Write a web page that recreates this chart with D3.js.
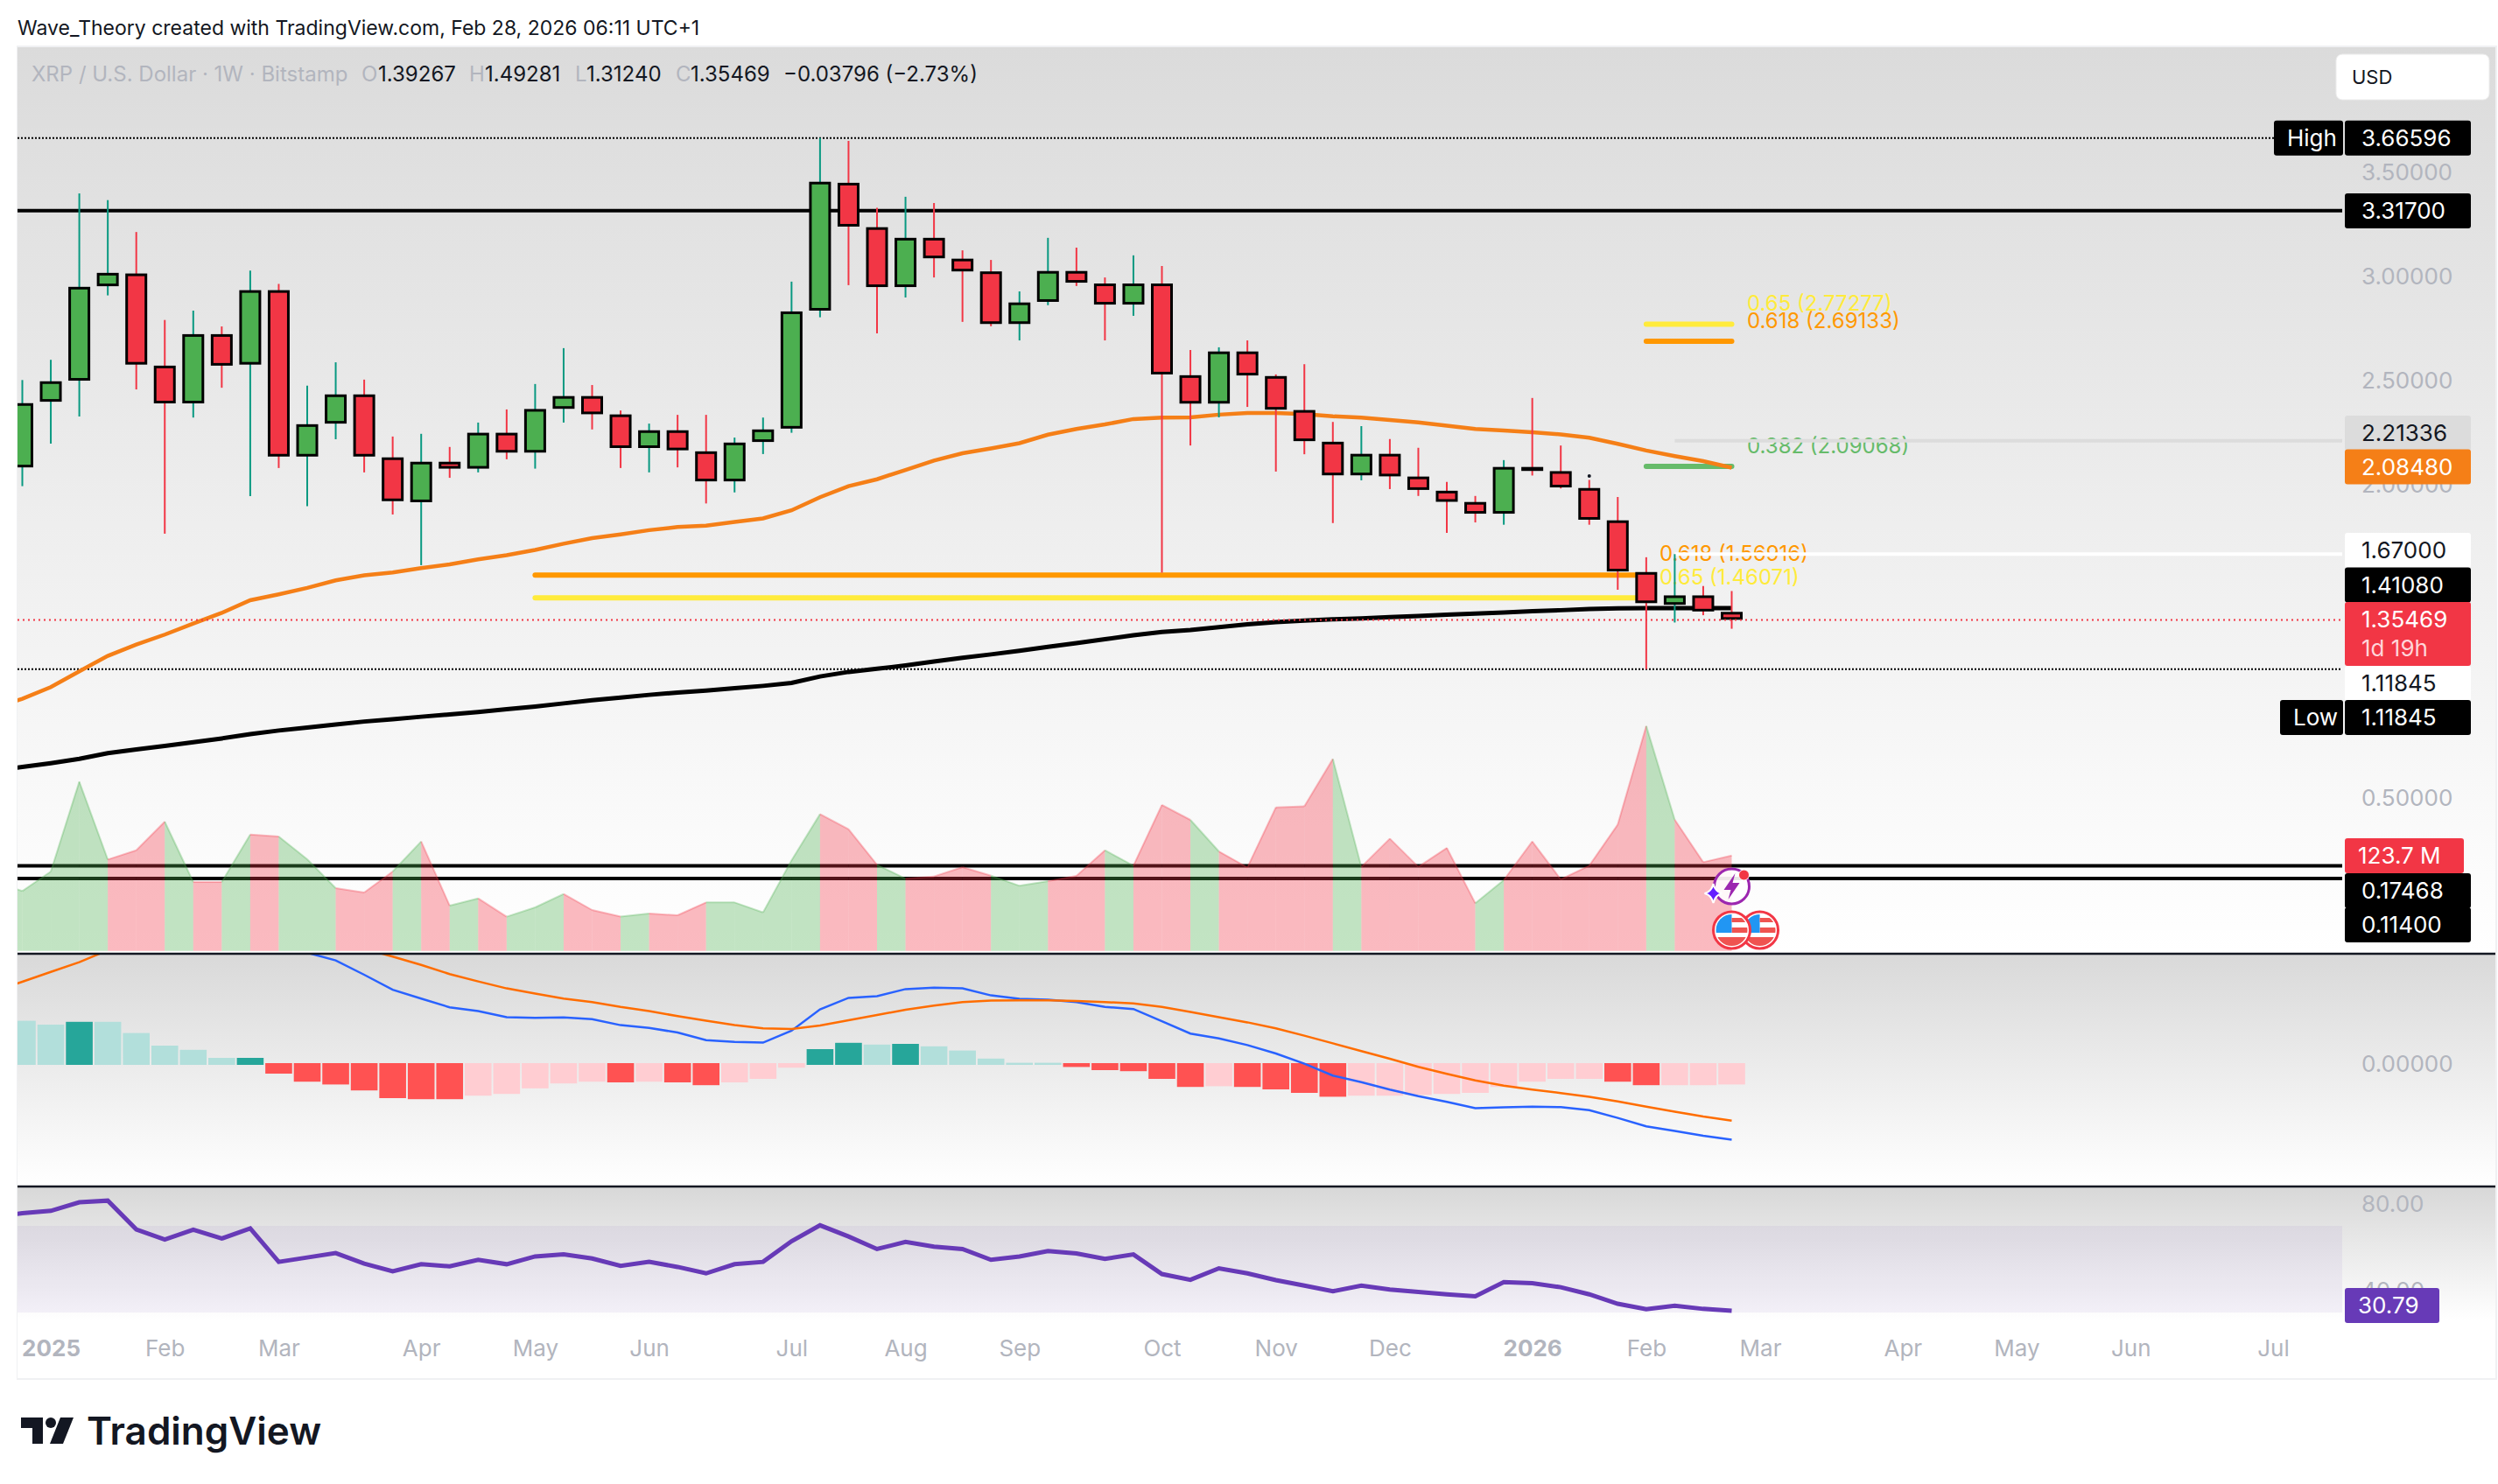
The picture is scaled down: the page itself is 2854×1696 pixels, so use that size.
<!DOCTYPE html>
<html>
<head>
<meta charset="utf-8">
<title>XRP / U.S. Dollar 1W</title>
<script src="https://cdn.jsdelivr.net/npm/d3@7"></script>
<style>
    html, body { margin: 0; padding: 0; background: #fff; }
    svg { display: block; font-family: Inter, "Noto Sans", sans-serif; }
</style>
</head>
<body>
<svg id="chart" width="2854" height="1696"></svg>
<script>
'use strict';

// weekly bars, first entry is the bar just left of the visible pane
const weeks = d3.range(-1, 61);

const opens = [2.10, 2.086, 2.401, 2.502, 2.955, 3.016, 2.574, 2.393, 2.725, 2.579, 2.936, 2.138, 2.296, 2.436, 2.134, 1.919, 2.113, 2.080, 2.252, 2.157, 2.367, 2.428, 2.340, 2.179, 2.264, 2.163, 2.019, 2.208, 2.272, 2.838, 3.451, 3.238, 2.951, 3.187, 3.087, 3.026, 2.774, 2.880, 3.028, 2.968, 2.867, 2.968, 2.528, 2.392, 2.642, 2.524, 2.361, 2.209, 2.048, 2.151, 2.042, 1.974, 1.920, 1.864, 2.088, 2.068, 1.987, 1.832, 1.584, 1.427, 1.472, 1.393];
const closes = [2.08, 2.394, 2.499, 2.952, 3.019, 2.579, 2.393, 2.725, 2.574, 2.936, 2.138, 2.293, 2.436, 2.138, 1.924, 2.113, 2.080, 2.252, 2.157, 2.366, 2.428, 2.341, 2.179, 2.264, 2.168, 2.019, 2.205, 2.268, 2.834, 3.456, 3.241, 2.951, 3.187, 3.089, 3.026, 2.774, 2.877, 3.028, 2.972, 2.867, 2.968, 2.532, 2.392, 2.642, 2.527, 2.363, 2.212, 2.048, 2.151, 2.043, 1.978, 1.921, 1.864, 2.088, 2.069, 1.990, 1.835, 1.587, 1.435, 1.472, 1.395, 1.355];
const highs = [2.15, 2.505, 2.602, 3.400, 3.368, 3.215, 2.793, 2.838, 2.762, 3.030, 2.966, 2.478, 2.590, 2.507, 2.234, 2.247, 2.184, 2.301, 2.364, 2.486, 2.658, 2.481, 2.359, 2.296, 2.338, 2.338, 2.229, 2.325, 2.977, 3.666, 3.652, 3.331, 3.384, 3.354, 3.127, 3.081, 2.930, 3.187, 3.140, 2.997, 3.103, 3.052, 2.649, 2.662, 2.695, 2.532, 2.581, 2.304, 2.284, 2.222, 2.180, 2.016, 1.949, 2.121, 2.419, 2.191, 2.026, 1.944, 1.655, 1.670, 1.517, 1.493];
const lows = [2.00, 1.996, 2.200, 2.330, 2.911, 2.460, 1.768, 2.325, 2.468, 1.948, 2.083, 1.900, 2.221, 2.062, 1.860, 1.617, 2.036, 2.062, 2.125, 2.080, 2.301, 2.268, 2.083, 2.062, 2.086, 1.913, 1.966, 2.150, 2.252, 2.806, 2.960, 2.729, 2.901, 2.997, 2.784, 2.763, 2.695, 2.864, 2.956, 2.695, 2.813, 1.581, 2.191, 2.326, 2.376, 2.066, 2.149, 1.819, 2.024, 1.982, 1.949, 1.772, 1.822, 1.811, 2.047, 1.985, 1.811, 1.499, 1.118, 1.342, 1.377, 1.312];

// moving averages on the price pane
const ma50 = [0.93, 0.976, 1.032, 1.108, 1.182, 1.236, 1.284, 1.337, 1.388, 1.449, 1.477, 1.508, 1.544, 1.568, 1.582, 1.603, 1.621, 1.645, 1.665, 1.690, 1.720, 1.747, 1.765, 1.785, 1.800, 1.807, 1.824, 1.841, 1.880, 1.943, 1.996, 2.029, 2.074, 2.119, 2.154, 2.177, 2.202, 2.243, 2.270, 2.292, 2.318, 2.325, 2.326, 2.339, 2.347, 2.347, 2.342, 2.331, 2.325, 2.313, 2.302, 2.286, 2.270, 2.263, 2.255, 2.244, 2.228, 2.199, 2.167, 2.140, 2.116, 2.0848];
const ma200 = [0.632, 0.649, 0.667, 0.688, 0.715, 0.733, 0.750, 0.768, 0.786, 0.807, 0.824, 0.838, 0.853, 0.867, 0.878, 0.890, 0.901, 0.913, 0.926, 0.939, 0.954, 0.969, 0.982, 0.995, 1.006, 1.015, 1.027, 1.038, 1.052, 1.083, 1.105, 1.120, 1.136, 1.155, 1.173, 1.189, 1.206, 1.225, 1.243, 1.262, 1.281, 1.297, 1.306, 1.320, 1.333, 1.344, 1.351, 1.357, 1.362, 1.368, 1.373, 1.379, 1.385, 1.390, 1.396, 1.401, 1.407, 1.410, 1.411, 1.411, 1.411, 1.4108];

// volume in millions
const volumes = [89.7, 77.6, 102.9, 219.4, 118.4, 130.5, 167.6, 89.3, 89.3, 150.9, 148.3, 118.8, 81.3, 75.7, 102.9, 141.9, 58.6, 68.1, 44.3, 56.4, 73.8, 53.0, 44.6, 48.4, 46.2, 62.8, 62.8, 49.9, 117.3, 177.4, 157.8, 111.6, 93.8, 96.5, 108.6, 97.6, 84.4, 90.4, 97.2, 130.5, 110.5, 189.2, 169.9, 129.0, 108.2, 186.1, 187.6, 248.9, 109.0, 145.6, 109.0, 133.5, 61.7, 91.9, 141.9, 92.7, 110.5, 163.8, 291.7, 170.2, 115.0, 123.7];

// MACD pane
const macdLine = [0.373, 0.387, 0.397, 0.402, 0.402, 0.397, 0.387, 0.373, 0.358, 0.344, 0.332, 0.318, 0.296, 0.255, 0.212, 0.187, 0.162, 0.151, 0.134, 0.132, 0.133, 0.128, 0.111, 0.103, 0.090, 0.068, 0.063, 0.061, 0.095, 0.156, 0.189, 0.194, 0.214, 0.218, 0.216, 0.196, 0.186, 0.184, 0.177, 0.163, 0.157, 0.122, 0.087, 0.073, 0.054, 0.030, 0.001, -0.033, -0.052, -0.073, -0.092, -0.108, -0.126, -0.124, -0.122, -0.123, -0.132, -0.154, -0.178, -0.191, -0.205, -0.216];
const signalLine = [0.207, 0.235, 0.263, 0.291, 0.325, 0.349, 0.363, 0.371, 0.373, 0.371, 0.363, 0.354, 0.344, 0.329, 0.307, 0.283, 0.257, 0.236, 0.216, 0.201, 0.187, 0.177, 0.163, 0.151, 0.137, 0.124, 0.111, 0.102, 0.100, 0.110, 0.125, 0.140, 0.155, 0.167, 0.177, 0.181, 0.182, 0.182, 0.180, 0.177, 0.173, 0.163, 0.149, 0.134, 0.119, 0.102, 0.081, 0.059, 0.037, 0.015, -0.008, -0.028, -0.047, -0.062, -0.073, -0.083, -0.094, -0.107, -0.122, -0.136, -0.150, -0.162];
const macdHist = [0.13, 0.126, 0.115, 0.123, 0.123, 0.091, 0.055, 0.043, 0.020, 0.020, -0.030, -0.053, -0.061, -0.078, -0.100, -0.103, -0.103, -0.093, -0.088, -0.072, -0.058, -0.053, -0.055, -0.053, -0.055, -0.063, -0.055, -0.045, -0.013, 0.045, 0.063, 0.058, 0.060, 0.053, 0.041, 0.018, 0.006, 0.006, -0.011, -0.020, -0.023, -0.045, -0.068, -0.066, -0.068, -0.075, -0.085, -0.096, -0.093, -0.093, -0.091, -0.088, -0.085, -0.068, -0.053, -0.045, -0.045, -0.053, -0.063, -0.063, -0.063, -0.061];
const macdStrong = [0, 0, 0, 1, 0, 0, 0, 0, 0, 1, 1, 1, 1, 1, 1, 1, 1, 0, 0, 0, 0, 0, 1, 0, 1, 1, 0, 0, 0, 1, 1, 0, 1, 0, 0, 0, 0, 0, 1, 1, 1, 1, 1, 0, 1, 1, 1, 1, 0, 0, 0, 0, 0, 0, 0, 0, 0, 1, 1, 0, 0, 0];

// RSI pane
const rsi = [73.8, 75.87, 76.96, 80.87, 81.65, 68.37, 63.69, 68.22, 64.16, 68.84, 53.38, 55.41, 57.44, 52.6, 49.01, 52.29, 51.35, 54.32, 52.29, 55.88, 56.82, 54.94, 51.51, 53.38, 51.04, 48.07, 52.29, 53.38, 62.91, 70.25, 65.09, 59.31, 62.59, 60.41, 59.31, 54.32, 55.88, 58.38, 57.28, 54.79, 56.82, 47.76, 45.10, 50.41, 48.07, 44.95, 42.45, 39.79, 42.45, 40.57, 39.48, 38.39, 37.45, 44.01, 43.54, 41.67, 38.39, 34.01, 31.51, 33.08, 31.67, 30.79];

// axes
const priceTicks = [3.5, 3, 2.5, 2, 1.5, 1, 0.5];
const macdTicks = [0];
const rsiTicks = [80, 40];
const timeTickWeeks = [1, 5, 9, 14, 18, 22, 27, 31, 35, 40, 44, 48, 53, 57, 61, 66, 70, 74, 79];
const timeTickLabels = ['2025', 'Feb', 'Mar', 'Apr', 'May', 'Jun', 'Jul', 'Aug', 'Sep', 'Oct', 'Nov', 'Dec', '2026', 'Feb', 'Mar', 'Apr', 'May', 'Jun', 'Jul'];

// levels
const highPrice = 3.66596;
const lowPrice = 1.11845;
const lastPrice = 1.35469;
const lastVolume = 123.7;
const lastRsi = 30.79;
const resistance = 3.317;
const greyLevel = 2.21336;
const whiteLevel = 1.67;
const supportLevels = [0.17468, 0.114];
const fibValues = [1.56916, 1.46071, 2.77277, 2.69133, 2.09068];
const fibRatios = ['0.618', '0.65', '0.65', '0.618', '0.382'];
const fibFromWeek = [18, 18, 57, 57, 57];
const fibToWeek = [57, 57, 60, 60, 60];
const legendValues = ['1.39267', '1.49281', '1.31240', '1.35469'];

// page layout
const PANE_LEFT = 20;
const PANE_RIGHT = 2676;
const OUTER_RIGHT = 2851;
const AXIS_TEXT_X = 2698;
const GREY_TEXT = '#b2b5be';
const UP_FILL = '#4caf50';
const DOWN_FILL = '#f23645';
const UP_WICK = '#089981';
const DOWN_WICK = '#f23645';

const svg = d3.select('#chart');
const defs = svg.append('defs');

// scales
const x = d3.scaleLinear().domain([0, 60]).range([25.5, 1978.5]);
const yPrice = d3.scaleLinear().domain([highPrice, lowPrice]).range([157.7, 764.7]);
const yVolume = d3.scaleLinear().domain([0, lastVolume]).range([1086.7, 977.7]);
const yMacd = d3.scaleLinear().domain([0, 1]).range([1216, 816]);
const yRsi = d3.scaleLinear().domain([70, 30]).range([1401, 1500]);

function isUp(i){
    return closes[i] >= opens[i];
}

function addGradient(id, from, to){
    const g = defs.append('linearGradient')
        .attr('id', id)
        .attr('x1', 0).attr('x2', 0).attr('y1', 0).attr('y2', 1);
    g.append('stop').attr('offset', '0%').attr('stop-color', from);
    g.append('stop').attr('offset', '100%').attr('stop-color', to);
}

function addClip(id, x0, y0, x1, y1){
    defs.append('clipPath').attr('id', id)
        .append('rect')
        .attr('x', x0).attr('y', y0)
        .attr('width', x1 - x0).attr('height', y1 - y0);
}

function hline(g, value, scale, x0, x1, stroke, width, dash){
    g.append('line')
        .attr('x1', x0).attr('x2', x1)
        .attr('y1', scale(value)).attr('y2', scale(value))
        .attr('stroke', stroke)
        .attr('stroke-width', width)
        .attr('stroke-dasharray', dash || null);
}

function label(g, text, px, py, fill, size, weight){
    return g.append('text')
        .attr('x', px).attr('y', py)
        .attr('dy', '0.35em')
        .attr('fill', fill)
        .attr('font-size', size)
        .attr('font-weight', weight || 400)
        .text(text);
}

addGradient('bgMain', '#dbdbdb', '#ffffff');
addGradient('bgMacd', '#d9d9d9', '#ffffff');
addGradient('bgRsi', '#d8d8d8', '#ffffff');
addClip('clipMain', PANE_LEFT, 54, PANE_RIGHT, 1089);
addClip('clipMacd', PANE_LEFT, 1091, PANE_RIGHT, 1355);
addClip('clipRsi', PANE_LEFT, 1358, PANE_RIGHT, 1510);

// backgrounds
svg.append('rect').attr('x', 0).attr('y', 0).attr('width', 2854).attr('height', 1696).attr('fill', '#fff');
svg.append('rect').attr('x', PANE_LEFT - 1).attr('y', 52).attr('width', OUTER_RIGHT - PANE_LEFT + 3).attr('height', 1525).attr('fill', '#f0f1f3');
svg.append('rect').attr('x', PANE_LEFT).attr('y', 54).attr('width', OUTER_RIGHT - PANE_LEFT).attr('height', 1521).attr('fill', '#fff');
svg.append('rect').attr('x', PANE_LEFT).attr('y', 54).attr('width', OUTER_RIGHT - PANE_LEFT).attr('height', 1035).attr('fill', 'url(#bgMain)');
svg.append('rect').attr('x', PANE_LEFT).attr('y', 1091).attr('width', OUTER_RIGHT - PANE_LEFT).attr('height', 264).attr('fill', 'url(#bgMacd)');
svg.append('rect').attr('x', PANE_LEFT).attr('y', 1357).attr('width', OUTER_RIGHT - PANE_LEFT).attr('height', 153).attr('fill', 'url(#bgRsi)');

// header and legend
label(svg, 'Wave_Theory created with TradingView.com, Feb 28, 2026 06:11 UTC+1', 20, 32, '#131722', 23);
label(svg, 'XRP / U.S. Dollar · 1W · Bitstamp', 36, 85, GREY_TEXT, 24);
const legendLetters = ['O', 'H', 'L', 'C'];
const legendLetterX = [413, 536, 657, 772];
const legendValueX = [432, 554, 670, 789];
legendLetters.forEach((d, i) => {
    label(svg, d, legendLetterX[i], 85, GREY_TEXT, 24);
    label(svg, legendValues[i], legendValueX[i], 85, '#131722', 24);
});
label(svg, '−0.03796 (−2.73%)', 895, 85, '#131722', 24);

// price pane
const main = svg.append('g').attr('clip-path', 'url(#clipMain)');

// fib labels sit below the level lines
const fibLabelX = [1896, 1896, 1996, 1996, 1996];
const fibLabelY = [633, 660, 347, 367, 510];
const fibColors = ['#ff9800', '#ffeb3b', '#ffeb3b', '#ff9800', '#66bb6a'];
fibValues.forEach((d, i) => {
    label(main, `${fibRatios[i]} (${d.toFixed(5)})`, fibLabelX[i], fibLabelY[i], fibColors[i], 24);
});

hline(main, highPrice, yPrice, PANE_LEFT, 2598, '#000', 2, '2 2');
hline(main, lowPrice, yPrice, PANE_LEFT, PANE_RIGHT, '#000', 2, '2 2');
hline(main, resistance, yPrice, PANE_LEFT, PANE_RIGHT, '#000', 4);
hline(main, greyLevel, yPrice, x(58), PANE_RIGHT, '#dcdcdc', 4);
hline(main, whiteLevel, yPrice, x(58), PANE_RIGHT, '#fff', 4);
supportLevels.forEach(d => hline(main, d, yPrice, PANE_LEFT, PANE_RIGHT, '#000', 4));

// fib level lines
main.append('g').selectAll('line')
    .data(fibValues)
    .enter()
    .append('line')
    .attr('x1', (_, i) => x(fibFromWeek[i]))
    .attr('x2', (_, i) => x(fibToWeek[i]))
    .attr('y1', d => yPrice(d))
    .attr('y2', d => yPrice(d))
    .attr('stroke', (_, i) => fibColors[i])
    .attr('stroke-width', 6)
    .attr('stroke-linecap', 'round');

// volume area, each segment takes the colour of the bar it ends on
const volumeArea = d3.area()
    .x(i => x(weeks[i]))
    .y0(yVolume(0))
    .y1(i => yVolume(volumes[i]));
const volumeTop = d3.line()
    .x(i => x(weeks[i]))
    .y(i => yVolume(volumes[i]));
const volumeGroup = main.append('g');
d3.range(1, weeks.length).forEach(i => {
    const color = isUp(i) ? UP_FILL : DOWN_FILL;
    volumeGroup.append('path')
        .attr('d', volumeArea([i - 1, i]))
        .attr('fill', color)
        .attr('fill-opacity', 0.34);
    volumeGroup.append('path')
        .attr('d', volumeTop([i - 1, i]))
        .attr('fill', 'none')
        .attr('stroke', color)
        .attr('stroke-opacity', 0.3)
        .attr('stroke-width', 2);
});

// moving averages
const maLine = d3.line()
    .x((_, i) => x(weeks[i]))
    .y(d => yPrice(d));
main.append('path').attr('d', maLine(ma200)).attr('fill', 'none').attr('stroke', '#000').attr('stroke-width', 5);
main.append('path').attr('d', maLine(ma50)).attr('fill', 'none').attr('stroke', '#f57f17').attr('stroke-width', 4.5);

// candles
const candles = main.append('g').selectAll('g')
    .data(weeks)
    .enter()
    .append('g');
candles.append('line')
    .attr('x1', d => x(d))
    .attr('x2', d => x(d))
    .attr('y1', (_, i) => yPrice(highs[i]))
    .attr('y2', (_, i) => yPrice(lows[i]))
    .attr('stroke', (_, i) => isUp(i) ? UP_WICK : DOWN_WICK)
    .attr('stroke-width', 2);
candles.append('rect')
    .attr('x', d => x(d) - 11)
    .attr('width', 22)
    .attr('y', (_, i) => yPrice(Math.max(opens[i], closes[i])) + 1.5)
    .attr('height', (_, i) => Math.max(0.5, Math.abs(yPrice(opens[i]) - yPrice(closes[i])) - 3))
    .attr('fill', (_, i) => isUp(i) ? UP_FILL : DOWN_FILL)
    .attr('stroke', '#000')
    .attr('stroke-width', 3);

// small dot over the wick of the late January bar
main.append('circle').attr('cx', x(55)).attr('cy', yPrice(2.045)).attr('r', 2).attr('fill', '#131722');

hline(main, lastPrice, yPrice, PANE_LEFT, PANE_RIGHT, '#f23645', 2, '2 4');

// MACD pane
const macdPane = svg.append('g').attr('clip-path', 'url(#clipMacd)');
macdPane.append('g').selectAll('rect')
    .data(macdHist)
    .enter()
    .append('rect')
    .attr('x', (_, i) => x(weeks[i]) - 15.3)
    .attr('width', 30.6)
    .attr('y', d => d >= 0 ? yMacd(d) + 1 : yMacd(0) - 1)
    .attr('height', d => d >= 0 ? yMacd(0) - yMacd(d) : yMacd(d) - yMacd(0))
    .attr('fill', (d, i) => {
        if(d >= 0) return macdStrong[i] ? '#26a69a' : '#b2dfdb';
        return macdStrong[i] ? '#ff5252' : '#ffcdd2';
    });
const macdPath = d3.line()
    .x((_, i) => x(weeks[i]))
    .y(d => yMacd(d));
macdPane.append('path').attr('d', macdPath(macdLine)).attr('fill', 'none').attr('stroke', '#2962ff').attr('stroke-width', 2.5);
macdPane.append('path').attr('d', macdPath(signalLine)).attr('fill', 'none').attr('stroke', '#ff6d00').attr('stroke-width', 2.5);

// RSI pane
const rsiPane = svg.append('g').attr('clip-path', 'url(#clipRsi)');
rsiPane.append('rect')
    .attr('x', PANE_LEFT)
    .attr('width', PANE_RIGHT - PANE_LEFT)
    .attr('y', yRsi(70))
    .attr('height', yRsi(30) - yRsi(70))
    .attr('fill', '#7e57c2')
    .attr('fill-opacity', 0.08);
const rsiPath = d3.line()
    .x((_, i) => x(weeks[i]))
    .y(d => yRsi(d));
rsiPane.append('path').attr('d', rsiPath(rsi)).attr('fill', 'none').attr('stroke', '#673ab7').attr('stroke-width', 5);

// pane separators
[1090, 1356].forEach(d => {
    svg.append('line')
        .attr('x1', PANE_LEFT).attr('x2', OUTER_RIGHT)
        .attr('y1', d).attr('y2', d)
        .attr('stroke', '#131722')
        .attr('stroke-width', 2.5);
});

// axes
function styleAxis(g, size){
    g.select('.domain').remove();
    g.selectAll('text')
        .attr('fill', GREY_TEXT)
        .attr('font-size', size)
        .attr('font-family', 'Inter, "Noto Sans", sans-serif');
}

svg.append('g')
    .attr('transform', `translate(${AXIS_TEXT_X},0)`)
    .call(d3.axisRight(yPrice).tickValues(priceTicks).tickFormat(d3.format('.5f')).tickSize(0).tickPadding(0))
    .call(styleAxis, 26);
svg.append('g')
    .attr('transform', `translate(${AXIS_TEXT_X},0)`)
    .call(d3.axisRight(yMacd).tickValues(macdTicks).tickFormat(d3.format('.5f')).tickSize(0).tickPadding(0))
    .call(styleAxis, 26);
svg.append('g')
    .attr('transform', `translate(${AXIS_TEXT_X},0)`)
    .call(d3.axisRight(yRsi).tickValues(rsiTicks).tickFormat(d3.format('.2f')).tickSize(0).tickPadding(0))
    .call(styleAxis, 26);

const timeAxis = svg.append('g')
    .attr('transform', 'translate(0,1532)')
    .call(d3.axisBottom(x).tickValues(timeTickWeeks).tickFormat((_, i) => timeTickLabels[i]).tickSize(0).tickPadding(0))
    .call(styleAxis, 26);
timeAxis.selectAll('text')
    .attr('font-weight', (_, i) => timeTickLabels[i].length === 4 ? 700 : 400);

// price tags on the right axis
function tag(text, cy, fill, color, x0, x1){
    svg.append('rect')
        .attr('x', x0 || 2679).attr('y', cy - 20)
        .attr('width', (x1 || 2823) - (x0 || 2679)).attr('height', 40)
        .attr('rx', 3)
        .attr('fill', fill);
    label(svg, text, (x0 ? x0 + 15 : AXIS_TEXT_X), cy, color, 26);
}

const fmt5 = d3.format('.5f');
tag('High', 157.7, '#000', '#fff', 2598, 2677);
tag(fmt5(highPrice), 157.7, '#000', '#fff');
tag(fmt5(resistance), 241, '#000', '#fff');
tag(fmt5(greyLevel), 495, '#dcdcdc', '#131722');
tag(fmt5(ma50[ma50.length - 1]), 533.5, '#f57f17', '#fff');
tag(fmt5(whiteLevel), 629, '#fff', '#131722');
tag(fmt5(ma200[ma200.length - 1]), 668.5, '#000', '#fff');

// last price tag is two lines high
svg.append('rect').attr('x', 2679).attr('y', 688).attr('width', 144).attr('height', 73).attr('rx', 3).attr('fill', '#f23645');
label(svg, fmt5(lastPrice), AXIS_TEXT_X, 708, '#fff', 26);
label(svg, '1d 19h', AXIS_TEXT_X, 741, '#ffd5d9', 26);

tag(fmt5(lowPrice), 781, '#fff', '#131722');
tag('Low', 820, '#000', '#fff', 2605, 2677);
tag(fmt5(lowPrice), 820, '#000', '#fff');
tag(`${lastVolume} M`, 978, '#f23645', '#fff', 2679, 2815);
tag(fmt5(supportLevels[0]), 1018, '#000', '#fff');
tag(fmt5(supportLevels[1]), 1057, '#000', '#fff');
tag(lastRsi.toFixed(2), 1492, '#673ab7', '#fff', 2679, 2787);

// currency button
svg.append('rect').attr('x', 2669).attr('y', 62).attr('width', 175).attr('height', 52).attr('rx', 7).attr('fill', '#fff').attr('stroke', '#ececec').attr('stroke-width', 1);
label(svg, 'USD', 2687, 88, '#131722', 22);

// event icons on the volume pane
function flagIcon(cx, cy, id){
    const g = svg.append('g').attr('transform', `translate(${cx},${cy})`);
    defs.append('clipPath').attr('id', id).append('circle').attr('r', 18);
    g.append('circle').attr('r', 21).attr('fill', '#fff').attr('stroke', '#f23645').attr('stroke-width', 3);
    const inner = g.append('g').attr('clip-path', `url(#${id})`);
    inner.append('rect').attr('x', -20).attr('y', 8).attr('width', 40).attr('height', 14).attr('fill', '#ef5350');
    inner.append('rect').attr('x', 0).attr('y', -3).attr('width', 20).attr('height', 6).attr('fill', '#ef5350');
    inner.append('rect').attr('x', -20).attr('y', -20).attr('width', 20).attr('height', 23).attr('fill', '#2196f3');
    inner.append('rect').attr('x', 0).attr('y', -14).attr('width', 20).attr('height', 5).attr('fill', '#ef5350');
}

flagIcon(x(61) - 0.5, 1063, 'flagRight');
flagIcon(x(60), 1063, 'flagLeft');

const spark = svg.append('g').attr('transform', `translate(${x(60)},1013)`);
spark.append('circle').attr('r', 20).attr('fill', '#fff').attr('fill-opacity', 0.9).attr('stroke', '#9c27b0').attr('stroke-width', 3);
spark.append('path').attr('d', 'M4 -15 L-9 4 L-1 4 L-4 15 L9 -4 L1 -4 Z').attr('fill', '#9c27b0');
spark.append('path').attr('d', 'M-21 -3 Q-19 6 -11 8 Q-19 10 -21 19 Q-23 10 -31 8 Q-23 6 -21 -3 Z').attr('fill', '#651fff').attr('stroke', '#fff').attr('stroke-width', 2);
spark.append('circle').attr('cx', 14).attr('cy', -13).attr('r', 6).attr('fill', '#f23645').attr('stroke', '#fff').attr('stroke-width', 1);

// TradingView mark
const logo = svg.append('g').attr('fill', '#131722');
logo.append('path').attr('d', 'M24 1620 H49 V1650 H37 V1632 H24 Z');
logo.append('circle').attr('cx', 58).attr('cy', 1626).attr('r', 6);
logo.append('path').attr('d', 'M69 1620 H84 L72 1650 H57 Z');
label(logo, 'TradingView', 99, 1636, '#131722', 44, 600);
</script>
</body>
</html>
